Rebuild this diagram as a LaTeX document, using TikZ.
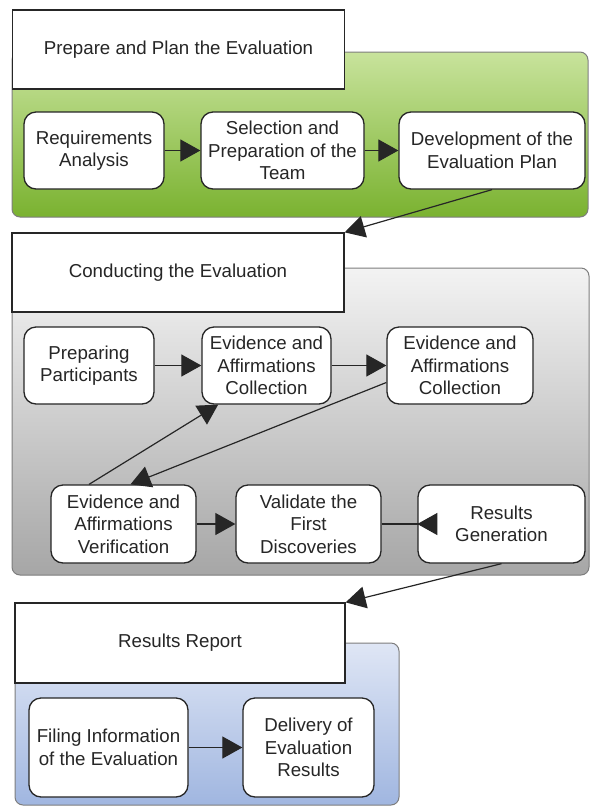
\documentclass[tikz,border=0pt]{standalone}
\usepackage{fontspec}
\setmainfont{Liberation Sans}
\usetikzlibrary{arrows.meta}
\definecolor{greentop}{RGB}{200,227,156}
\definecolor{greenbot}{RGB}{122,178,48}
\definecolor{graytop}{RGB}{243,243,243}
\definecolor{graybot}{RGB}{166,166,166}
\definecolor{bluetop}{RGB}{223,230,245}
\definecolor{bluebot}{RGB}{160,182,224}
\definecolor{inkgray}{RGB}{38,38,38}

\begin{document}
\begin{tikzpicture}[
  x=1pt, y=-1pt,
  panel/.style={draw=inkgray!60, line width=1pt, rounded corners=8pt},
  titlebox/.style={draw=inkgray, fill=white, line width=1.3pt, minimum width=332pt, minimum height=79pt, text=inkgray, font=\fontsize{18.7}{22.5}\selectfont},
  stepbox/.style={draw=inkgray, fill=white, line width=1.3pt, rounded corners=12pt, align=center, minimum height=77pt, inner sep=2pt, text=inkgray, font=\fontsize{18.7}{22.5}\selectfont},
  arr/.style={-{Triangle[length=20pt, width=22pt]}, line width=1.2pt, draw=inkgray},
  backarr/.style={-{Triangle[reversed, length=20pt, width=22pt]}, line width=1.2pt, draw=inkgray, shorten >=-20pt}
]
\useasboundingbox (0,0) rectangle (590,807);

% panels
\draw[panel, top color=greentop, bottom color=greenbot] (12,52) rectangle (588,217);
\draw[panel, top color=graytop, bottom color=graybot] (12,268) rectangle (589,575);
\draw[panel, top color=bluetop, bottom color=bluebot] (15,643) rectangle (399,805);

% phase titles
\node[titlebox] (t1) at (178.5,49.5) {Prepare and Plan the Evaluation};
\node[titlebox] (t2) at (178,272.5) {Conducting the Evaluation};
\node[titlebox, minimum width=330pt, minimum height=80pt] (t3) at (180,643) {Results Report};

% prepare and plan
\node[stepbox, minimum width=140pt] (req) at (94,150.5) {Requirements\\Analysis};
\node[stepbox, minimum width=163pt] (sel) at (282.5,150.5) {Selection and\\Preparation of the\\Team};
\node[stepbox, minimum width=186pt] (dev) at (492,150.5) {Development of the\\Evaluation Plan};

% conducting
\node[stepbox, minimum width=130pt] (prep) at (89,365.5) {Preparing\\Participants};
\node[stepbox, minimum width=129pt] (col1) at (266.5,365.5) {Evidence and\\Affirmations\\Collection};
\node[stepbox, minimum width=146pt] (col2) at (460,365.5) {Evidence and\\Affirmations\\Collection};
\node[stepbox, minimum width=145pt, minimum height=78pt] (ver) at (123.5,524) {Evidence and\\Affirmations\\Verification};
\node[stepbox, minimum width=145pt, minimum height=78pt] (val) at (308.5,524) {Validate the\\First\\Discoveries};
\node[stepbox, minimum width=167pt, minimum height=78pt] (res) at (501.5,524) {Results\\Generation};

% report
\node[stepbox, minimum width=159pt, minimum height=99pt] (fil) at (108.5,747.5) {Filing Information\\of the Evaluation};
\node[stepbox, minimum width=131pt, minimum height=99pt] (del) at (308.5,747.5) {Delivery of\\Evaluation\\Results};

\draw[arr] (req) -- (sel);
\draw[arr] (sel) -- (dev);
\draw[arr] (dev.south) -- (t2.north east);
\draw[arr] (prep) -- (col1);
\draw[arr] (col1) -- (col2);
\draw[arr] (col2.193) -- (ver.80);
\draw[arr] (ver.131) -- (col1.219);
\draw[arr] (ver) -- (val);
\draw[backarr] (val) -- (res);
\draw[arr] (res.south) -- (t3.north east);
\draw[arr] (fil) -- (del);
\end{tikzpicture}
\end{document}
